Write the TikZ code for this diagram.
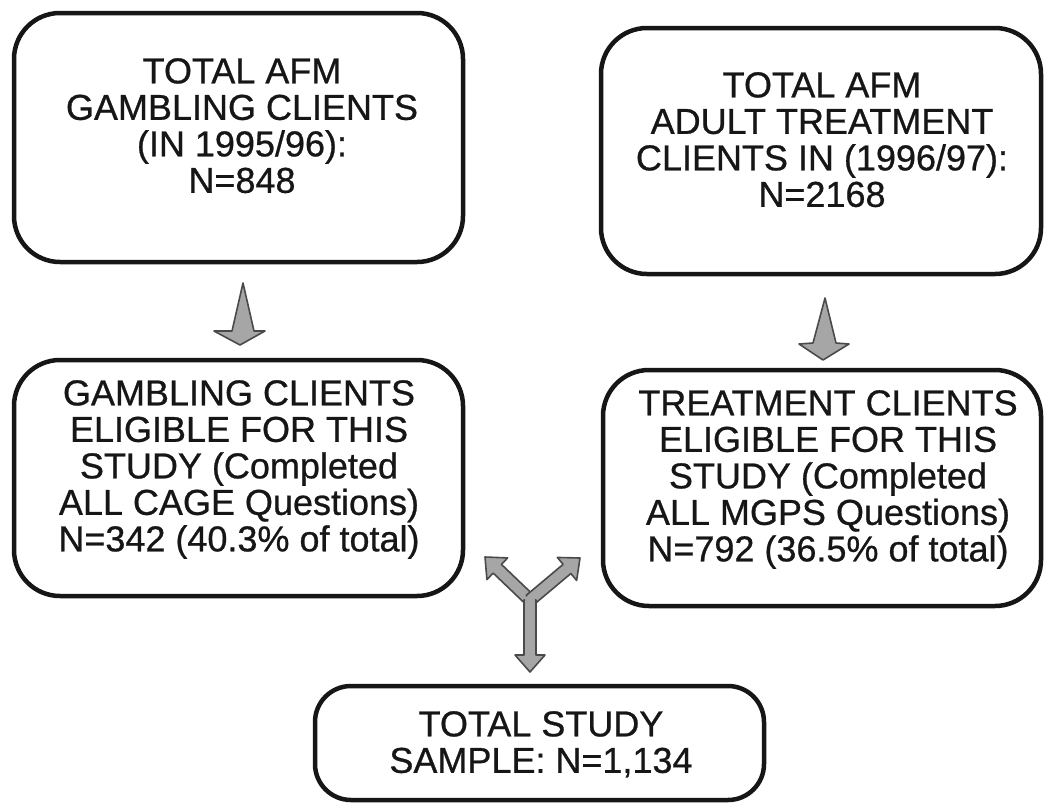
\documentclass[tikz,border=0pt]{standalone}
\usepackage{fontspec}
\setmainfont[FakeBold=0.7]{Liberation Sans}
\usetikzlibrary{calc}
\definecolor{inkc}{HTML}{161616}
\definecolor{arrfill}{HTML}{A6A6A6}
\definecolor{arrline}{HTML}{4A4A4A}
\tikzset{
  box/.style={draw=inkc, line width=4.5pt, rounded corners=46pt},
  smallbox/.style={draw=inkc, line width=4.5pt, rounded corners=36pt},
  txt/.style={anchor=north, inner sep=0pt, align=center, text=inkc,
    font=\fontsize{36pt}{36.5pt}\selectfont},
  blockarrow/.style={fill=arrfill, draw=arrline, line width=1.6pt, line join=round},
}
\newcommand\branch[2]{%
  \coordinate (brS) at ($(#2)!17pt!(#1)$);
  \filldraw[blockarrow] ($(#1)!6pt!90:(#2)$) -- ($(brS)!6pt!90:(#2)$) --
    ($(brS)!15pt!90:(#2)$) -- (#2) -- ($(brS)!15pt!-90:(#2)$) --
    ($(brS)!6pt!-90:(#2)$) -- ($(#1)!6pt!-90:(#2)$) -- cycle;
}
\begin{document}
\begin{tikzpicture}[x=1pt,y=-1pt]
\useasboundingbox[fill=white] (0,0) rectangle (1044,811);
% boxes
\draw[box] (14,13) rectangle (463,262);
\node[inner sep=0pt] (b1) at (238,138) {};
\draw[box] (601,28) rectangle (1041,274);
\node[inner sep=0pt] (b2) at (821,151) {};
\draw[box] (14,360) rectangle (463,596);
\node[inner sep=0pt] (b3) at (238,478) {};
\draw[box] (603,370) rectangle (1041,606);
\node[inner sep=0pt] (b4) at (822,488) {};
\draw[smallbox] (315,686) rectangle (764,800);
\node[inner sep=0pt] (b5) at (540,743) {};
% texts
\node[txt] (t1) at (242,58) {TOTAL AFM\\GAMBLING CLIENTS\\(IN 1995/96):\\N=848};
\node[txt] (t2) at (822,72) {TOTAL AFM\\ADULT TREATMENT\\CLIENTS IN (1996/97):\\N=2168};
\node[txt] (t3) at (239,380) {GAMBLING CLIENTS\\ELIGIBLE FOR THIS\\STUDY (Completed\\ALL CAGE Questions)\\N=342 (40.3\% of total)};
\node[txt] (t4) at (828,390) {TREATMENT CLIENTS\\ELIGIBLE FOR THIS\\STUDY (Completed\\ALL MGPS Questions)\\N=792 (36.5\% of total)};
\node[txt] (t5) at (541,711) {TOTAL STUDY\\SAMPLE: N=1,134};
% down arrows (tapered)
\filldraw[blockarrow] (243,283) -- (254,331) -- (265,331) -- (240,345) -- (214,331) -- (232,331) -- cycle;
\filldraw[blockarrow] (825,298) -- (836,343) -- (849,344) -- (823,360) -- (799,344) -- (813,343) -- cycle;
% Y arrow
\coordinate (yj) at (530,600);
\coordinate (yl) at (485,557);
\coordinate (yr) at (580,558);
\coordinate (yd) at (530,672);
\branch{yj}{yl}
\branch{yj}{yr}
\branch{yj}{yd}
\fill[arrfill] (yj) circle (5pt);
\end{tikzpicture}
\end{document}
